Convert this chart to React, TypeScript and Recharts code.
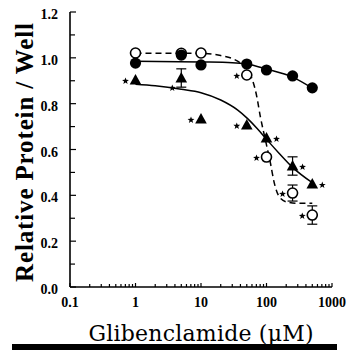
import { ComposedChart, ErrorBar, Line, Scatter, XAxis, YAxis } from "recharts";

// glibenclamide dose (uM) and relative protein per well
const doses = [1, 5, 10, 50, 100, 250, 500];
const filledCircle = [0.977, 1.012, 0.969, 0.973, 0.947, 0.921, 0.869];
const openCircle = [1.021, 1.02, 1.021, 0.925, 0.567, 0.41, 0.314];
const openCircleErr = [null, null, null, null, null, 0.035, 0.04];
const openCircleStar = ["", "", "", "L", "L", "L", "L"];
const triangle = [0.903, 0.912, 0.733, 0.707, 0.65, 0.528, 0.449];
const triangleErr = [null, 0.04, null, null, null, 0.04, null];
const triangleStar = ["L", "LL", "L", "L", "R", "R", "R"];

// fitted curves
const filledFitX = [1, 10, 30, 50, 100, 250, 500];
const filledFitY = [0.985, 0.982, 0.979, 0.973, 0.951, 0.916, 0.868];
const openFitX = [1, 10, 20, 31, 45, 56, 70, 81, 100, 115, 130, 160, 210, 300, 500];
const openFitY = [1.02, 1.02, 1.01, 0.995, 0.965, 0.93, 0.84, 0.74, 0.62, 0.54, 0.46, 0.39, 0.37, 0.365, 0.365];
const triFitX = [1, 2, 5, 10, 20, 36, 51, 72, 102, 154, 250, 500];
const triFitY = [0.885, 0.878, 0.863, 0.848, 0.816, 0.773, 0.736, 0.692, 0.642, 0.585, 0.522, 0.455];

const xMajor = [0.1, 1, 10, 100, 1000];
const xTicks = [
  0.1, 0.2, 0.3, 0.4, 0.5, 0.6, 0.7, 0.8, 0.9,
  1, 2, 3, 4, 5, 6, 7, 8, 9,
  10, 20, 30, 40, 50, 60, 70, 80, 90,
  100, 200, 300, 400, 500, 600, 700, 800, 900,
  1000,
];
const yTicks = [0, 0.1, 0.2, 0.3, 0.4, 0.5, 0.6, 0.7, 0.8, 0.9, 1.0, 1.1, 1.2];

const pts = (ys: (number | null)[], errs?: (number | null)[], stars?: string[]) =>
  doses.map((x, i) => ({ x, y: ys[i], err: errs ? errs[i] : null, star: stars ? stars[i] : "" }));
const curve = (xs: number[], ys: number[]) => xs.map((x, i) => ({ x, y: ys[i] }));

const filledData = pts(filledCircle);
const openData = pts(openCircle, openCircleErr, openCircleStar);
const triData = pts(triangle, triangleErr, triangleStar);
const openErrData = openData.filter((d) => d.err != null);
const triErrData = triData.filter((d) => d.err != null);

const tickFont = { fontFamily: "'Liberation Serif', serif", fontWeight: 700, fontSize: 14, fill: "#000" };

function starPath(cx: number, cy: number, r: number) {
  let d = "";
  for (let k = 0; k < 10; k++) {
    const rr = k % 2 === 0 ? r : r * 0.42;
    const a = -Math.PI / 2 + (k * Math.PI) / 5;
    d += (k === 0 ? "M" : "L") + (cx + rr * Math.cos(a)).toFixed(2) + "," + (cy + rr * Math.sin(a)).toFixed(2);
  }
  return d + "Z";
}

function Star({ cx, cy, star }: { cx: number; cy: number; star: string }) {
  if (!star) return null;
  const dx = star === "R" ? 10 : star === "LL" ? -9 : -10;
  const dy = star === "LL" ? 10 : 1;
  return <path d={starPath(cx + dx, cy + dy, 3.6)} fill="#000" />;
}

function FilledDot(props: any) {
  const { cx, cy } = props;
  return <circle cx={cx} cy={cy} r={5.6} fill="#000" />;
}

function OpenDot(props: any) {
  const { cx, cy, payload } = props;
  return (
    <g>
      <circle cx={cx} cy={cy} r={5} fill="#fff" stroke="#000" strokeWidth={1.6} />
      <Star cx={cx} cy={cy} star={payload.star} />
    </g>
  );
}

function TriDot(props: any) {
  const { cx, cy, payload } = props;
  return (
    <g>
      <path d={`M${cx},${cy - 6}L${cx + 5.8},${cy + 4.5}L${cx - 5.8},${cy + 4.5}Z`} fill="#000" />
      <Star cx={cx} cy={cy} star={payload.star} />
    </g>
  );
}

const Nothing = () => <g />;

function XTick(props: any) {
  const { x, y, payload } = props;
  const major = xMajor.includes(payload.value);
  return (
    <g>
      <line x1={x} y1={y} x2={x} y2={y - (major ? 4 : 3)} stroke="#000" strokeWidth={1.2} />
      {major ? (
        <text x={x} y={y + 20} textAnchor="middle" {...tickFont}>
          {payload.value}
        </text>
      ) : null}
    </g>
  );
}

function YTick(props: any) {
  const { x, y, payload, index } = props;
  const labelled = index % 2 === 0;
  return (
    <g>
      <line x1={x} y1={y} x2={x + (labelled ? 6 : 5)} y2={y} stroke="#000" strokeWidth={1.2} />
      {labelled ? (
        <text x={x - 12} y={y + 7} textAnchor="end" {...tickFont}>
          {payload.value.toFixed(1)}
        </text>
      ) : null}
    </g>
  );
}

function YLabel(props: any) {
  const { viewBox } = props;
  const cx = viewBox.x + 24;
  const cy = viewBox.y + viewBox.height / 2 + 3;
  return (
    <text
      x={cx}
      y={cy}
      transform={`rotate(-90 ${cx} ${cy})`}
      textAnchor="middle"
      dominantBaseline="central"
      textLength={259}
      lengthAdjust="spacing"
      fontFamily="'Liberation Serif', serif"
      fontWeight={700}
      fontSize={25}
      fill="#000"
    >
      Relative Protein / Well
    </text>
  );
}

function XLabel(props: any) {
  const { viewBox } = props;
  return (
    <text
      x={viewBox.x + viewBox.width / 2}
      y={viewBox.y + 54}
      textAnchor="middle"
      textLength={225}
      lengthAdjust="spacing"
      fontFamily="'DejaVu Serif', serif"
      fontSize={22}
      fill="#000"
    >
      Glibenclamide (μM)
    </text>
  );
}

export default function App() {
  return (
    <div style={{ position: "absolute", left: 0, top: 0, width: 350, height: 350, background: "#fff" }}>
      <ComposedChart width={350} height={350} margin={{ top: 12, right: 18, left: 0, bottom: 7 }}>
        <XAxis
          dataKey="x"
          type="number"
          scale="log"
          domain={[0.1, 1000]}
          allowDataOverflow
          ticks={xTicks}
          interval={0}
          height={56}
          tickSize={0}
          tickMargin={0}
          tick={<XTick />}
          tickLine={false}
          axisLine={{ stroke: "#000", strokeWidth: 1.6 }}
          label={<XLabel />}
        />
        <YAxis
          dataKey="y"
          type="number"
          domain={[0, 1.2]}
          allowDataOverflow
          ticks={yTicks}
          interval={0}
          width={70}
          tickSize={0}
          tickMargin={0}
          tick={<YTick />}
          tickLine={false}
          axisLine={{ stroke: "#000", strokeWidth: 1.6 }}
          label={<YLabel />}
        />
        <Line
          data={curve(openFitX, openFitY)}
          dataKey="y"
          type="monotone"
          stroke="#000"
          strokeWidth={1.5}
          strokeDasharray="6 4"
          dot={false}
          activeDot={false}
          isAnimationActive={false}
        />
        <Line
          data={curve(filledFitX, filledFitY)}
          dataKey="y"
          type="monotone"
          stroke="#000"
          strokeWidth={1.5}
          dot={false}
          activeDot={false}
          isAnimationActive={false}
        />
        <Line
          data={curve(triFitX, triFitY)}
          dataKey="y"
          type="monotone"
          stroke="#000"
          strokeWidth={1.5}
          dot={false}
          activeDot={false}
          isAnimationActive={false}
        />
        <Scatter data={openErrData} dataKey="y" shape={<Nothing />} isAnimationActive={false}>
          <ErrorBar dataKey="err" direction="y" width={5} stroke="#000" strokeWidth={1.2} />
        </Scatter>
        <Scatter data={triErrData} dataKey="y" shape={<Nothing />} isAnimationActive={false}>
          <ErrorBar dataKey="err" direction="y" width={5} stroke="#000" strokeWidth={1.2} />
        </Scatter>
        <Scatter data={openData} dataKey="y" shape={<OpenDot />} isAnimationActive={false} />
        <Scatter data={filledData} dataKey="y" shape={<FilledDot />} isAnimationActive={false} />
        <Scatter data={triData} dataKey="y" shape={<TriDot />} isAnimationActive={false} />
      </ComposedChart>
      <div style={{ position: "absolute", left: 12, top: 344, width: 325, height: 6, background: "#000" }} />
    </div>
  );
}
